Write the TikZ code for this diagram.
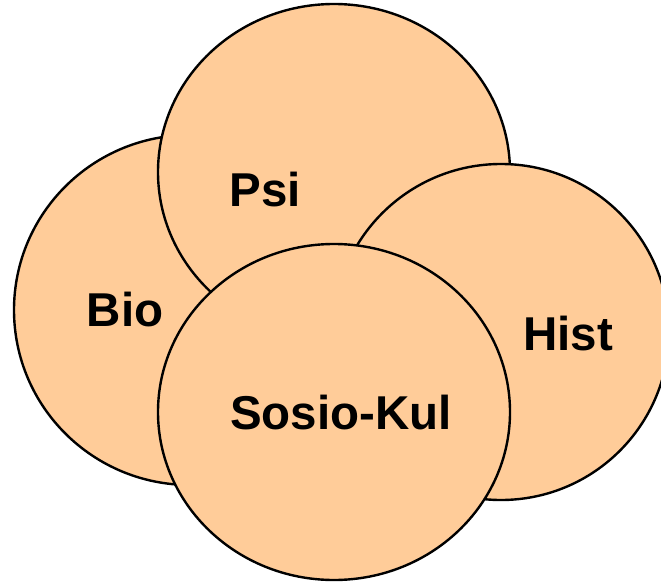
\documentclass[tikz,border=0pt]{standalone}
\usepackage{fontspec}
\setmainfont{Liberation Sans}
\definecolor{peach}{HTML}{FFCC99}
\begin{document}
\begin{tikzpicture}[x=1pt,y=-1pt,
  blob/.style={fill=peach,draw=black,line width=2.4pt},
  lbl/.style={font=\fontsize{47.5}{54}\selectfont\bfseries,inner sep=0pt,anchor=center}]
\useasboundingbox (0,0) rectangle (661,583);
\clip (0,0) rectangle (661,583);
\path[blob] (190,310) ellipse [x radius=176pt, y radius=175pt];
\path[blob] (334,172) ellipse [x radius=176pt, y radius=168pt];
\path[blob] (501,332) ellipse [x radius=168pt, y radius=168pt];
\path[blob] (334,412) ellipse [x radius=176pt, y radius=168pt];
\node[lbl] (bio) at (125,310) {Bio};
\node[lbl] (psi) at (265,190) {Psi};
\node[lbl] (hist) at (568,334) {Hist};
\node[lbl] (sosio) at (341,413) {Sosio-Kul};
\end{tikzpicture}
\end{document}
